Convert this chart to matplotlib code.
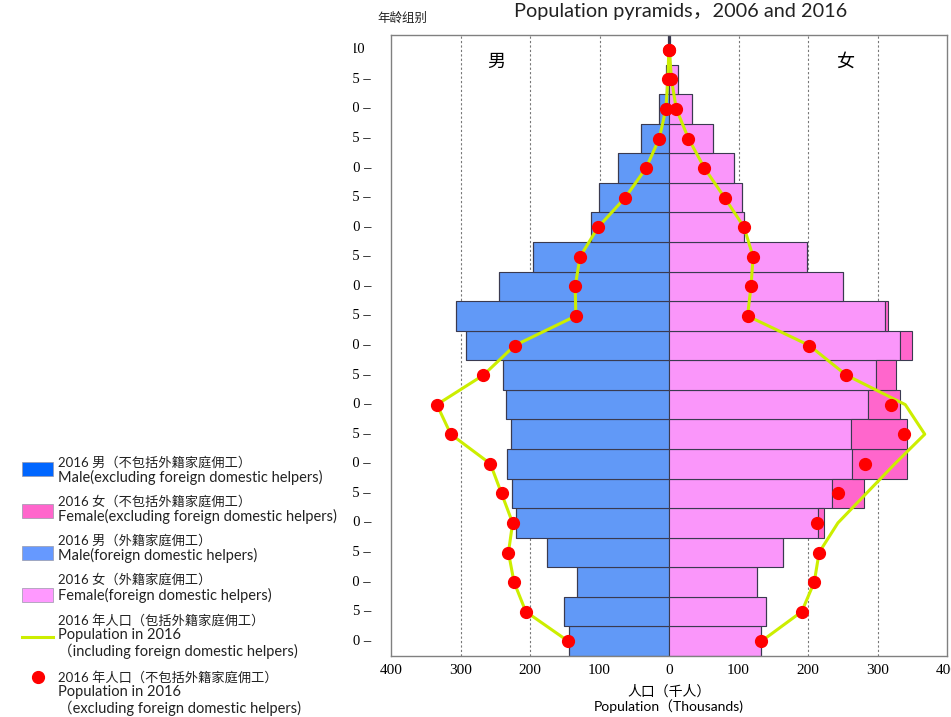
import numpy as np
import matplotlib
matplotlib.use("Agg")
import matplotlib.pyplot as plt
from matplotlib.patches import Rectangle
from matplotlib.lines import Line2D
from matplotlib.transforms import Bbox, TransformedBbox, blended_transform_factory

W, H = 951, 717
plt.rcParams['font.family'] = ['Lato', 'Noto Sans CJK SC', 'DejaVu Sans']

# 年龄组别 (0, 5, ..., 100)
ages = list(range(0, 101, 5))

# 人口 (千人), 由 0 岁组到 100 岁组
male_bar = [144, 151, 132, 176, 220, 226, 233, 228, 234, 239, 292, 306,
            244, 196, 112, 101, 74, 40, 14, 4, 1]
male_bar_extra = [0, 0, 0, 0, 0, 0, 0, 0, 0, 0, 0, 0,
                  0, 0, 0, 0, 0, 0, 0, 0, 0]
female_bar = [133, 140, 126, 164, 215, 235, 264, 262, 287, 298, 333, 311,
              250, 198, 108, 105, 93, 64, 33, 13, 2]
female_bar_extra = [0, 0, 0, 0, 8, 46, 79, 80, 46, 28, 16, 4,
                    0, 0, 0, 0, 0, 0, 0, 0, 0]

# 2016 年人口 (包括外籍家庭佣工) - 折线
male_incl = [145, 206, 223, 231, 225, 241, 257, 314, 334, 267, 222, 134,
             135, 128, 102, 63, 33, 14, 4.5, 1.5, 0.3]
female_incl = [133, 191, 209, 216, 243, 284, 325, 368, 340, 255, 202, 113,
               118, 121, 108, 80, 51, 28, 10.5, 3.5, 0.5]
# 2016 年人口 (不包括外籍家庭佣工) - 红点
male_excl = [145, 206, 223, 231, 225, 241, 257, 314, 334, 267, 222, 134,
             135, 128, 102, 63, 33, 14, 4.5, 1.5, 0.3]
female_excl = [133, 191, 209, 216, 213, 243, 282, 338, 320, 255, 202, 113,
               118, 121, 108, 80, 51, 28, 10.5, 3.5, 0.5]

x_ticks = [-400, -300, -200, -100, 0, 100, 200, 300, 400]
grid_x = [-300, -200, -100, 100, 200, 300]

c_male_dark = "#0066FF"
c_female_dark = "#FF66CC"
c_male_light = "#6199F7"
c_female_light = "#FA96FA"
c_line = "#CCEE00"
c_dot = "#FF0000"
c_edge = "#3A3A50"

fig = plt.figure(figsize=(W / 100, H / 100), dpi=100)
ax = fig.add_axes([391 / W, 1 - 656 / H, (947 - 391) / W, (656 - 35) / H])

y = np.arange(len(ages))
mb = np.array(male_bar)
fb = np.array(female_bar)

for gx in grid_x:
    ax.axvline(gx, color="#777777", lw=0.8, ls=(0, (2, 2)), zorder=1)

ax.barh(y, -mb, height=1, color=c_male_light, edgecolor=c_edge, lw=0.8, zorder=2)
ax.barh(y, -np.array(male_bar_extra), left=-mb, height=1, color=c_male_dark,
        edgecolor=c_edge, lw=0.8, zorder=2)
ax.barh(y, fb, height=1, color=c_female_light, edgecolor=c_edge, lw=0.8, zorder=2)
ax.barh(y, female_bar_extra, left=fb, height=1, color=c_female_dark,
        edgecolor=c_edge, lw=0.8, zorder=2)

ax.plot(-np.array(male_incl), y, color=c_line, lw=2.2, zorder=3)
ax.plot(female_incl, y, color=c_line, lw=2.2, zorder=3)
ax.plot(-np.array(male_excl), y, "o", color=c_dot, ms=8.5, zorder=4)
ax.plot(female_excl, y, "o", color=c_dot, ms=8.5, zorder=4)

ax.set_xlim(-400, 400)
ax.set_ylim(-0.5, len(ages) - 0.5)
ax.set_xticks(x_ticks)
ax.set_xticklabels([str(abs(v)) for v in x_ticks], family="Liberation Serif", fontsize=11)
ax.tick_params(axis="x", length=0, pad=6)
ax.set_yticks([])
for s in ax.spines.values():
    s.set_color("#808080")
    s.set_linewidth(1)

ax.text(-249, 19.6, "男", fontsize=13, ha="center", va="center", family="Noto Sans CJK SC")
ax.text(253, 19.6, "女", fontsize=13, ha="center", va="center", family="Noto Sans CJK SC")

ax.set_xlabel("人口（千人）\nPopulation（Thousands)", fontsize=10, labelpad=5,
              linespacing=1.15)

# y 轴标签 (左侧被截掉)
tr = blended_transform_factory(fig.transFigure, ax.transData)
for i, a in enumerate(ages):
    if a == 100:
        t = fig.text(373 / W, i, str(a), transform=tr, ha="right", va="center",
                     family="Liberation Serif", fontsize=10.5)
        t.set_clip_box(TransformedBbox(Bbox([[354 / W, 0], [365 / W, 1]]), fig.transFigure))
    else:
        t = fig.text(371 / W, i, "%d –" % a, transform=tr, ha="right", va="center",
                     family="Liberation Serif", fontsize=10.5)
        t.set_clip_box(TransformedBbox(Bbox([[353 / W, 0], [1, 1]]), fig.transFigure))

fig.text(681 / W, 1 - 11 / H, "Population pyramids，2006 and 2016", ha="center",
         va="center", fontsize=14.3, color="#222222")
fig.text(402 / W, 1 - 18 / H, "年龄组别", ha="center", va="center", fontsize=9,
         color="#222222")

# 图例
legend_items = [
    ("patch", c_male_dark, 469, [(462, "2016 男（不包括外籍家庭佣工）"),
                                  (477, "Male(excluding foreign domestic helpers)")]),
    ("patch", c_female_dark, 511, [(501, "2016 女（不包括外籍家庭佣工）"),
                                    (516, "Female(excluding foreign domestic helpers)")]),
    ("patch", "#6699FF", 553, [(540, "2016 男（外籍家庭佣工）"),
                                (555, "Male(foreign domestic helpers)")]),
    ("patch", "#FF99FF", 595, [(579, "2016 女（外籍家庭佣工）"),
                                (595, "Female(foreign domestic helpers)")]),
    ("line", c_line, 637, [(620, "2016 年人口（包括外籍家庭佣工）"),
                           (635, "Population in 2016"),
                           (651, "（including foreign domestic helpers)")]),
    ("dot", c_dot, 677, [(677, "2016 年人口（不包括外籍家庭佣工）"),
                         (692, "Population in 2016"),
                         (708, "（excluding foreign domestic helpers)")]),
]
for kind, col, hy, lines in legend_items:
    if kind == "patch":
        fig.patches.append(Rectangle((22 / W, 1 - (hy + 7) / H), 31 / W, 14 / H,
                                     transform=fig.transFigure, facecolor=col,
                                     edgecolor="#9999aa", lw=0.5))
    elif kind == "line":
        fig.lines.append(Line2D([22 / W, 53 / W], [1 - hy / H, 1 - hy / H],
                                transform=fig.transFigure, color=col, lw=2.2))
    else:
        fig.lines.append(Line2D([38 / W], [1 - hy / H], transform=fig.transFigure,
                                marker="o", color=col, ms=8.5, ls="none"))
    for ly, txt in lines:
        fs = 9.5 if txt.startswith("2016") else 10.5
        fig.text(58 / W, 1 - ly / H, txt, ha="left", va="center", fontsize=fs,
                 color="#222222")

fig.savefig("out.png", dpi=100)
